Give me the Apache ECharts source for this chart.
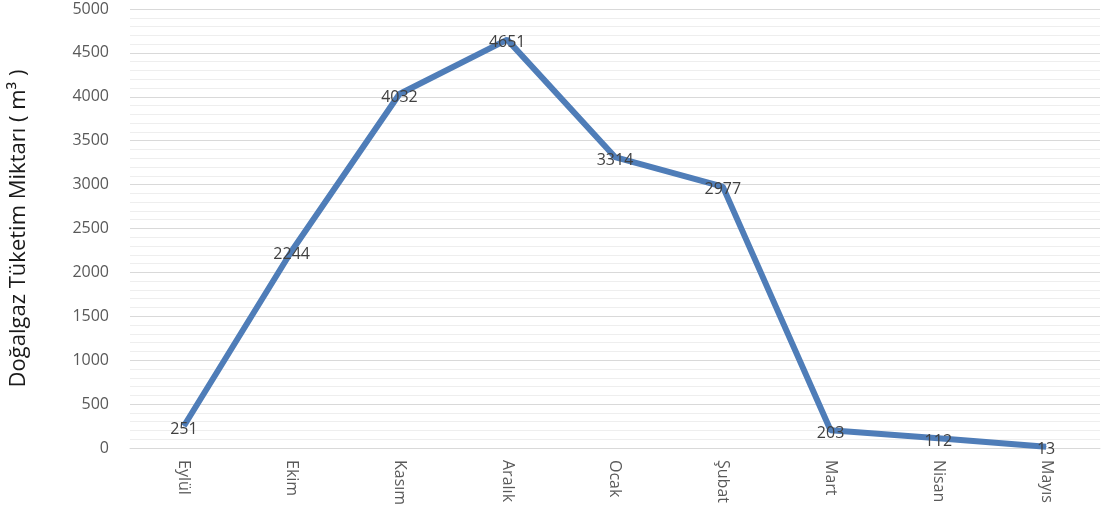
<!DOCTYPE html>
<html>
<head>
<meta charset="utf-8">
<script src="https://cdn.jsdelivr.net/npm/echarts@6/dist/echarts.min.js"></script>
<style>
  html, body { margin: 0; padding: 0; background: #fff; }
  #main { width: 1107px; height: 517px; }
</style>
</head>
<body>
<div id="main"></div>
<script>
var months = ['Eylül', 'Ekim', 'Kasım', 'Aralık', 'Ocak', 'Şubat', 'Mart', 'Nisan', 'Mayıs'];
var consumption = [251, 2244, 4032, 4651, 3314, 2977, 203, 112, 13];
var yTicks = { min: 0, max: 5000, step: 500 };

var myChart = echarts.init(document.getElementById('main'));
var option = {
  animation: false,
  grid: { left: 129, right: 7, top: 9, bottom: 69 },
  xAxis: {
    type: 'category',
    data: months,
    boundaryGap: true,
    axisLine: { lineStyle: { color: '#d9d9d9' } },
    axisTick: { show: false },
    axisLabel: {
      rotate: -90,
      color: '#595959',
      fontSize: 16,
      fontFamily: 'Open Sans',
      margin: 12
    }
  },
  yAxis: {
    type: 'value',
    min: yTicks.min,
    max: yTicks.max,
    interval: yTicks.step,
    name: 'Doğalgaz Tüketim Miktarı ( m³ )',
    nameLocation: 'middle',
    nameGap: 100,
    nameTextStyle: { color: '#1a1a1a', fontSize: 22, fontFamily: 'Open Sans' },
    axisLine: { show: false },
    axisTick: { show: false },
    axisLabel: {
      color: '#595959',
      fontSize: 16,
      fontFamily: 'Open Sans',
      margin: 21,
      formatter: function (v) { return String(v); }
    },
    splitLine: { lineStyle: { color: '#d9d9d9' } },
    minorTick: { show: false, splitNumber: 5 },
    minorSplitLine: { show: true, lineStyle: { color: '#eeeeee' } }
  },
  series: [{
    type: 'line',
    data: consumption,
    symbol: 'circle',
    symbolSize: 1,
    showSymbol: true,
    lineStyle: { color: '#4f7db8', width: 6 },
    itemStyle: { color: '#4f7db8' },
    label: {
      show: true,
      position: 'inside',
      offset: [0, 3],
      color: '#404040',
      fontSize: 16,
      fontFamily: 'Open Sans'
    }
  }]
};
option && myChart.setOption(option);
</script>
</body>
</html>
